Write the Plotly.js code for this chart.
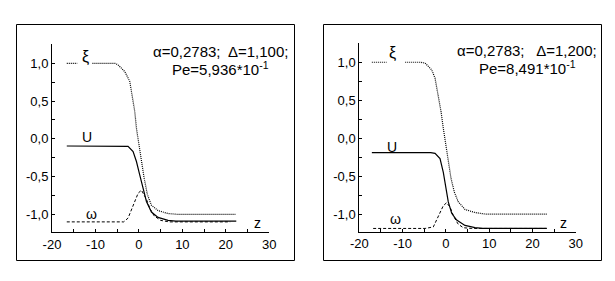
<!DOCTYPE html>
<html>
<head>
<meta charset="utf-8">
<script src="https://cdn.plot.ly/plotly-3.0.1.min.js"></script>
<style>html,body{margin:0;padding:0;background:#fff;}#chart{width:615px;height:281px;}</style>
</head>
<body>
<div id="chart"></div>
<script>
// ---- Left panel data (Δ=1,100) ----
const zXiL  = [-16.6, -14.2, -14.1, -10.7, -8, -5.5, -4.8, -3.25, -2.1, -1.57, -0.95, -0.57, -0.03, 0.58, 1.2, 1.96, 2.88, 4.4, 6.7, 9, 22.2];
const xiL   = [1, 1, null, 1, 1, 1, 0.98, 0.89, 0.76, 0.58, 0.36, 0.14, -0.08, -0.30, -0.52, -0.74, -0.88, -0.95, -0.99, -1.0, -1.0];
const zUL   = [-16.6, -3.5, -2.5, -1.34, -0.57, 0.2, 0.97, 1.73, 2.88, 4.4, 6.7, 8.5, 22.4];
const uL    = [-0.095, -0.095, -0.10, -0.17, -0.30, -0.48, -0.66, -0.83, -0.97, -1.04, -1.08, -1.09, -1.09];
const zOmL  = [-16.6, -10, -4.8, -3.5, -2.5, -1.34, -0.18, 0.58, 1.73, 2.5, 3.5, 5, 7, 21];
const omL   = [-1.10, -1.10, -1.11, -1.10, -1.05, -0.88, -0.72, -0.68, -0.80, -0.92, -1.02, -1.08, -1.10, -1.10];

// ---- Right panel data (Δ=1,200) ----
const zXiR  = [-17.1, -13.7, -13.6, -9.4, -6, -4.8, -3.27, -2.5, -1.75, -1.12, -0.59, -0.04, 0.56, 1.19, 1.95, 2.87, 4.42, 6.73, 9, 23.3];
const xiR   = [1, 1, null, 1, 1, 0.99, 0.90, 0.79, 0.57, 0.35, 0.13, -0.09, -0.31, -0.53, -0.71, -0.84, -0.94, -0.98, -1.0, -1.0];
const zUR   = [-17.1, -3.5, -2.5, -1.35, -0.59, -0.04, 0.56, 1.35, 2.5, 4.42, 6.73, 8.5, 23.3];
const uR    = [-0.19, -0.19, -0.20, -0.27, -0.45, -0.66, -0.84, -0.99, -1.08, -1.15, -1.18, -1.19, -1.19];
const zOmR  = [-16.8, -4.8, -2.9, -1.75, -0.59, 0.19, 0.98, 1.8, 2.8, 4, 6, 23.3];
const omR   = [-1.19, -1.19, -1.17, -1.02, -0.89, -0.85, -0.91, -1.03, -1.13, -1.18, -1.19, -1.19];

// ---- Tick labels ----
const xTickVals = [-20, -10, 0, 10, 20, 30];
const xTickText = ['-20', '-10', '0', '10', '20', '30'];
const yTickVals = [-1, -0.5, 0, 0.5, 1];
const yTickText = ['-1,0', '-0,5', '0,0', '0,5', '1,0'];

// ---- Texts ----
const paramLine1L = 'α=0,2783;  Δ=1,100;';
const paramLine2L = 'Pe=5,936*10<sup>-1</sup>';
const paramLine1R = 'α=0,2783;   Δ=1,200;';
const paramLine2R = 'Pe=8,491*10<sup>-1</sup>';

const FONT = 'Arial, "Liberation Sans", sans-serif';

function tr(x, y, xa, ya, dash, width) {
  return {x: x, y: y, xaxis: xa, yaxis: ya, type: 'scatter', mode: 'lines',
    connectgaps: false, hoverinfo: 'skip', showlegend: false,
    line: {color: '#000', width: width, dash: dash}};
}

const data = [
  tr(zOmL, omL, 'x', 'y', '3px,2px', 1),
  tr(zUL, uL, 'x', 'y', 'solid', 1.2),
  tr(zXiL, xiL, 'x', 'y', '1px,1px', 1.2),
  tr(zOmR, omR, 'x2', 'y2', '3px,2px', 1),
  tr(zUR, uR, 'x2', 'y2', 'solid', 1.2),
  tr(zXiR, xiR, 'x2', 'y2', '1px,1px', 1.2)
];

function xax(domain, anchor) {
  return {domain: domain, anchor: anchor, range: [-20, 30], showgrid: false, zeroline: false,
    showline: true, linecolor: '#000', linewidth: 1, ticks: 'inside', ticklen: 3,
    tickcolor: '#000', tickwidth: 1, tickmode: 'array', tickvals: xTickVals, ticktext: xTickText,
    minor: {ticks: 'inside', ticklen: 3, tickcolor: '#000', tickwidth: 1, tick0: -20, dtick: 5, showgrid: false},
    tickfont: {family: FONT, size: 13, color: '#000'}, fixedrange: true};
}
function yax(domain, anchor, range) {
  return {domain: domain, anchor: anchor, range: range, showgrid: false, zeroline: false,
    showline: true, linecolor: '#000', linewidth: 1, ticks: 'inside', ticklen: 3,
    tickcolor: '#000', tickwidth: 1, tickmode: 'array', tickvals: yTickVals, ticktext: yTickText,
    minor: {ticks: 'inside', ticklen: 3, tickcolor: '#000', tickwidth: 1, tick0: 0, dtick: 0.25, showgrid: false},
    tickfont: {family: FONT, size: 13, color: '#000'}, fixedrange: true};
}

function lab(text, x, y, xr, yr, size) {
  return {text: text, x: x, y: y, xref: xr, yref: yr, showarrow: false,
    xanchor: 'center', yanchor: 'middle', font: {family: FONT, size: size, color: '#000'}};
}

const layout = {
  width: 615, height: 281,
  margin: {l: 0, r: 0, t: 0, b: 0},
  paper_bgcolor: '#fff', plot_bgcolor: 'rgba(0,0,0,0)',
  showlegend: false,
  xaxis: xax([0.08455, 0.43789], 'y'),
  yaxis: yax([0.1733, 0.8434], 'x', [-1.238, 1.256]),
  xaxis2: xax([0.58423, 0.93610], 'y2'),
  yaxis2: yax([0.1754, 0.8459], 'x2', [-1.233, 1.25]),
  shapes: [
    {type: 'rect', xref: 'paper', yref: 'paper', x0: 16.5/615, x1: 294.5/615, y0: 20.5/281, y1: 256.5/281, line: {color: '#000', width: 1}},
    {type: 'rect', xref: 'paper', yref: 'paper', x0: 323.5/615, x1: 601.5/615, y0: 20.5/281, y1: 256.5/281, line: {color: '#000', width: 1}}
  ],
  annotations: [
    lab(paramLine1L, 18.7, 1.156, 'x', 'y', 15),
    lab(paramLine2L, 18.7, 0.93, 'x', 'y', 15),
    lab('ξ', -12.2, 1.08, 'x', 'y', 16),
    lab('U', -11.9, 0.02, 'x', 'y', 14),
    lab('ω', -10.9, -0.99, 'x', 'y', 14),
    lab('z', 27.2, -1.12, 'x', 'y', 14),
    lab(paramLine1R, 18.75, 1.15, 'x2', 'y2', 15),
    lab(paramLine2R, 18.75, 0.93, 'x2', 'y2', 15),
    lab('ξ', -12.4, 1.12, 'x2', 'y2', 16),
    lab('U', -12.4, -0.12, 'x2', 'y2', 14),
    lab('ω', -11.75, -1.07, 'x2', 'y2', 14),
    lab('z', 27.1, -1.12, 'x2', 'y2', 14)
  ]
};

Plotly.newPlot('chart', data, layout, {staticPlot: true, displayModeBar: false});
</script>
</body>
</html>
